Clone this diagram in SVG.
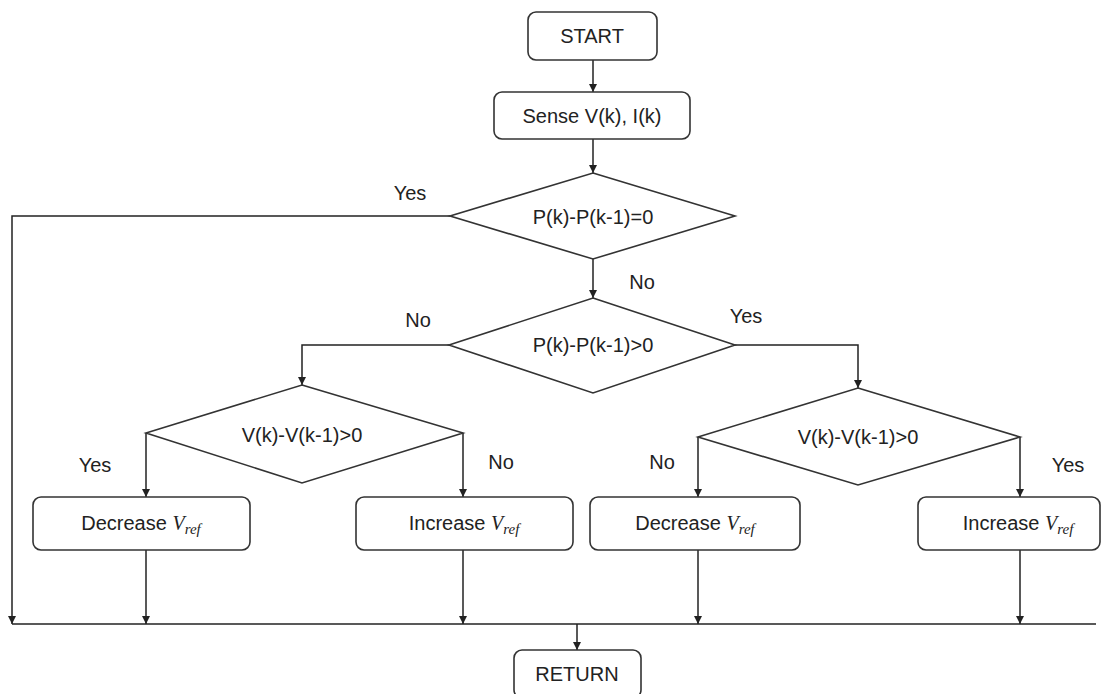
<svg xmlns="http://www.w3.org/2000/svg" width="1108" height="694" viewBox="0 0 1108 694">
<defs>
<marker id="ah" viewBox="0 0 10 10" refX="10" refY="5" markerWidth="8" markerHeight="8" markerUnits="userSpaceOnUse" orient="auto">
<path d="M0,0 L10,5 L0,10 Z" fill="#222"/>
</marker>
<style>
.shape{fill:#fff;stroke:#333;stroke-width:1.6}
.t{font-family:"Liberation Sans",Arial,sans-serif;font-size:20px;fill:#222;text-anchor:middle}
.m{font-family:"Liberation Serif","Times New Roman",serif;font-style:italic}
.c{fill:none;stroke:#222;stroke-width:1.5}
</style>
</defs>
<rect width="1108" height="694" fill="#fff"/>
<g id="connectors">
<path class="c" d="M593,60 V92" marker-end="url(#ah)"/>
<path class="c" d="M593,139 V173" marker-end="url(#ah)"/>
<path class="c" d="M593,259 V298" marker-end="url(#ah)"/>
<path class="c" d="M450,216 H12 V624" marker-end="url(#ah)"/>
<path class="c" d="M449,345 H302 V385" marker-end="url(#ah)"/>
<path class="c" d="M735,345 H858 V388" marker-end="url(#ah)"/>
<path class="c" d="M146,433 V497" marker-end="url(#ah)"/>
<path class="c" d="M463,433 V497" marker-end="url(#ah)"/>
<path class="c" d="M698,437 V497" marker-end="url(#ah)"/>
<path class="c" d="M1020,437 V497" marker-end="url(#ah)"/>
<path class="c" d="M146,550 V624" marker-end="url(#ah)"/>
<path class="c" d="M463,550 V624" marker-end="url(#ah)"/>
<path class="c" d="M698,550 V624" marker-end="url(#ah)"/>
<path class="c" d="M1020,550 V624" marker-end="url(#ah)"/>
<path class="c" d="M12,624 H1096"/>
<path class="c" d="M577,624 V650" marker-end="url(#ah)"/>
<text class="t" x="410" y="200">Yes</text>
<text class="t" x="642" y="289">No</text>
<text class="t" x="418" y="327">No</text>
<text class="t" x="746" y="323">Yes</text>
<text class="t" x="95" y="472">Yes</text>
<text class="t" x="501" y="469">No</text>
<text class="t" x="662" y="469">No</text>
<text class="t" x="1068" y="472">Yes</text>
</g>
<g id="start">
<rect class="shape" x="528" y="12" width="129" height="48" rx="8"/>
<text class="t" x="592" y="43">START</text>
</g>
<g id="sense">
<rect class="shape" x="494" y="92" width="196" height="47" rx="8"/>
<text class="t" x="592" y="123">Sense V(k), I(k)</text>
</g>
<g id="dec1">
<polygon class="shape" points="593,173 735,216 593,259 450,216"/>
<text class="t" x="593" y="224">P(k)-P(k-1)=0</text>
</g>
<g id="dec2">
<polygon class="shape" points="593,298 735,345 593,393 449,345"/>
<text class="t" x="593" y="352">P(k)-P(k-1)&gt;0</text>
</g>
<g id="dec3">
<polygon class="shape" points="302,385 463,433 302,483 146,433"/>
<text class="t" x="302" y="442">V(k)-V(k-1)&gt;0</text>
</g>
<g id="dec4">
<polygon class="shape" points="858,388 1020,437 858,485 698,437"/>
<text class="t" x="858" y="444">V(k)-V(k-1)&gt;0</text>
</g>
<g id="decrease1">
<rect class="shape" x="33" y="497" width="217" height="53" rx="8"/>
<text class="t" x="141" y="530">Decrease <tspan class="m">V</tspan><tspan class="m" font-size="15" dy="4">ref</tspan></text>
</g>
<g id="increase1">
<rect class="shape" x="356" y="497" width="217" height="53" rx="8"/>
<text class="t" x="464" y="530">Increase <tspan class="m">V</tspan><tspan class="m" font-size="15" dy="4">ref</tspan></text>
</g>
<g id="decrease2">
<rect class="shape" x="590" y="497" width="210" height="53" rx="8"/>
<text class="t" x="695" y="530">Decrease <tspan class="m">V</tspan><tspan class="m" font-size="15" dy="4">ref</tspan></text>
</g>
<g id="increase2">
<rect class="shape" x="918" y="497" width="182" height="53" rx="8"/>
<text class="t" x="1018" y="530">Increase <tspan class="m">V</tspan><tspan class="m" font-size="15" dy="4">ref</tspan></text>
</g>
<g id="return">
<rect class="shape" x="514" y="650" width="127" height="48" rx="8"/>
<text class="t" x="577" y="681">RETURN</text>
</g>
</svg>
